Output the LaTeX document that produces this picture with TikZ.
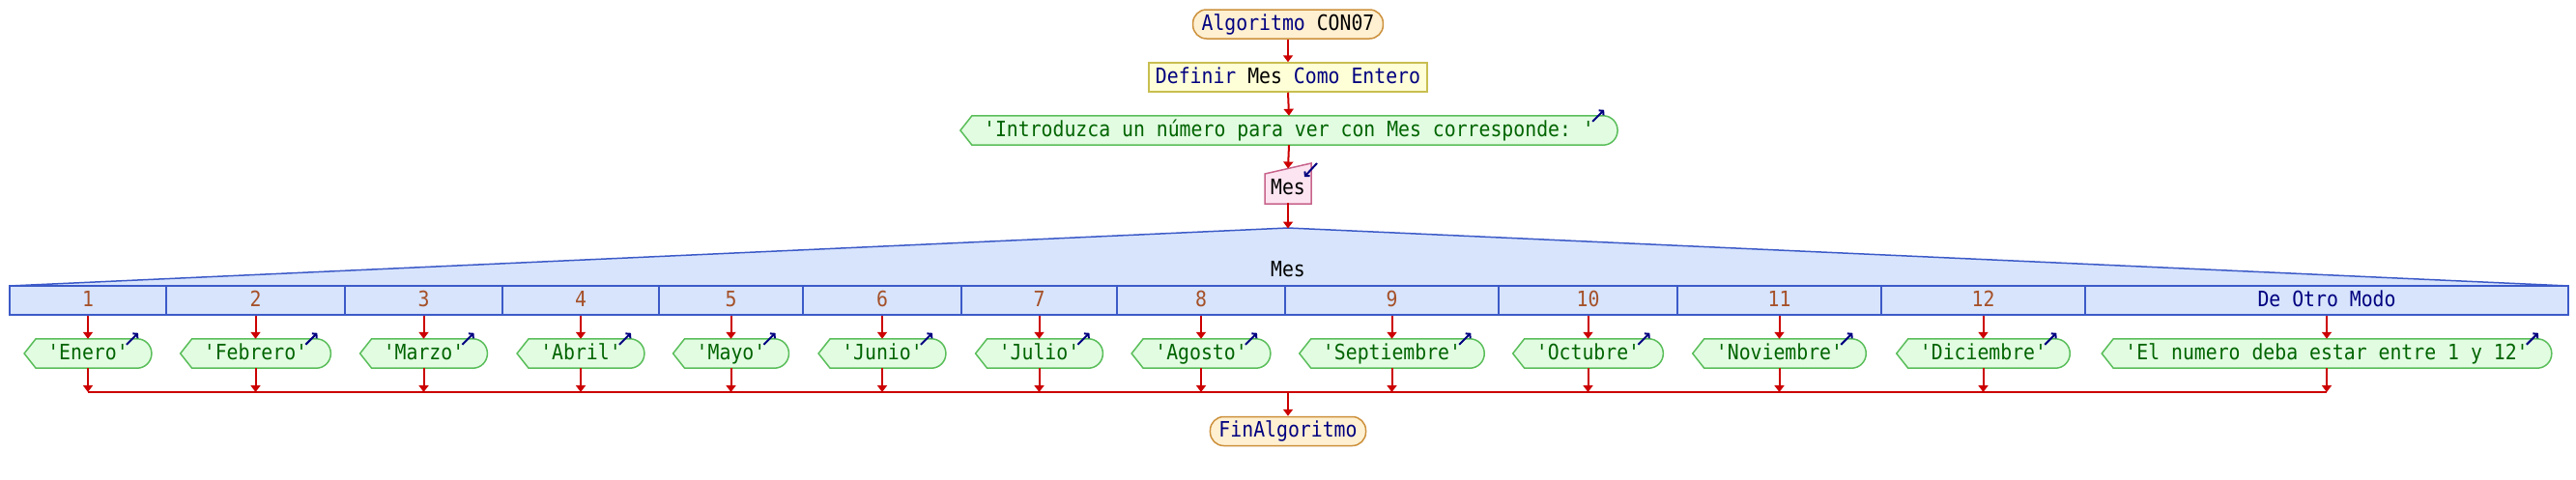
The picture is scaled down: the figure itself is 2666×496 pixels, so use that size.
\documentclass[tikz,border=0pt]{standalone}
\usepackage{fontspec}
\setmonofont[FakeStretch=0.9]{DejaVu Sans Mono}
\usetikzlibrary{arrows.meta,backgrounds}
\definecolor{navy}{RGB}{0,0,128}
\definecolor{flowred}{RGB}{204,0,0}
\definecolor{termfill}{RGB}{255,240,210}
\definecolor{termline}{RGB}{205,145,60}
\definecolor{deffill}{RGB}{255,255,215}
\definecolor{defline}{RGB}{200,190,80}
\definecolor{outfill}{RGB}{226,252,226}
\definecolor{outborder}{RGB}{90,190,90}
\definecolor{outtextc}{RGB}{0,100,0}
\definecolor{rdfill}{RGB}{252,228,240}
\definecolor{rdline}{RGB}{200,100,140}
\definecolor{swfill}{RGB}{215,228,252}
\definecolor{swline}{RGB}{60,90,200}
\definecolor{casenum}{RGB}{165,80,40}
\tikzset{
  base/.style={inner ysep=0pt, minimum height=30pt, text height=16pt, text depth=4pt},
  term/.style={base, inner xsep=9pt, draw=termline, fill=termfill, line width=1.5pt, rounded corners=14pt, text=navy},
  defbox/.style={base, inner xsep=7pt, draw=defline, fill=deffill, line width=1.5pt, text=navy},
  outtext/.style={base, inner xsep=24pt, text=outtextc},
  outshapestyle/.style={draw=outborder, fill=outfill, line width=1.5pt},
  icon/.style={draw=navy, line width=2pt, -{Straight Barb[length=3pt,width=7pt]}},
  flow/.style={draw=flowred, line width=2pt, -{Triangle[width=10pt,length=7pt]}},
  casebox/.style={base, inner xsep=0pt, draw=swline, fill=swfill, line width=1.5pt, text=casenum},
}
\newcommand\outshape[1]{%
  \begin{scope}[on background layer]
    \path[outshapestyle] (#1.west) -- ([xshift=12pt]#1.north west) -- ([xshift=-15pt]#1.north east)
      to[out=0,in=90] (#1.east) to[out=-90,in=0] ([xshift=-15pt]#1.south east)
      -- ([xshift=12pt]#1.south west) -- cycle;
  \end{scope}
  \draw[icon] ([xshift=-26pt,yshift=-6pt]#1.north east) -- ([xshift=-14pt,yshift=6pt]#1.north east);%
}
\begin{document}
\begin{tikzpicture}[x=1pt,y=1pt,font=\ttfamily\fontsize{22pt}{26pt}\selectfont]
\useasboundingbox (0,0) rectangle (2666,-496);
% top chain
\node[term] (start) at (1333,-25) {Algoritmo {\color{black}CON07}};
\node[defbox] (def) at (1333,-80) {Definir {\color{black}Mes} Como Entero};
\node[outtext] (intro) at (1334,-135) {'Introduzca un número para ver con Mes corresponde: '};
\outshape{intro}
% read
\path[draw=rdline, fill=rdfill, line width=1.5pt] (1309,-180) -- (1357,-169) -- (1357,-211) -- (1309,-211) -- cycle;
\node[base, text=black] (rd) at (1333,-195) {Mes};
\coordinate (rdtop) at (1333,-174.5);
\draw[icon] (1363,-169) -- (1350,-183);
% switch
\path[draw=swline, fill=swfill, line width=1.5pt] (10,-296) -- (1333,-236) -- (2658,-296) -- cycle;
\coordinate (swtop) at (1333,-236.5);
\node[base, text=black] (sw) at (1333,-280) {Mes};
\draw[flow] (start.south) -- (def.north);
\draw[flow] (def.south) -- (intro.north);
\draw[flow] (intro.south) -- (rdtop);
\draw[flow] (rd.south) -- (swtop);
\foreach \i/\cx/\w/\lab/\txt in {
  1/91/162/1/'Enero',
  2/264.5/185/2/'Febrero',
  3/438.5/163/3/'Marzo',
  4/601/162/4/'Abril',
  5/756.5/149/5/'Mayo',
  6/913/164/6/'Junio',
  7/1075.5/161/7/'Julio',
  8/1243/174/8/'Agosto',
  9/1440.5/221/9/'Septiembre',
  10/1643.5/185/10/'Octubre',
  11/1841.5/211/11/'Noviembre',
  12/2052.5/211/12/'Diciembre',
  13/2408/500/{\color{navy}De Otro Modo}/'El numero deba estar entre 1 y 12'}{
  \node[casebox, minimum width=\w pt] (c\i) at (\cx,-311) {\lab};
  \node[outtext] (o\i) at (\cx,-366) {\txt};
  \outshape{o\i}
  \coordinate (b\i) at (\cx,-406);
  \draw[flow] (c\i.south) -- (o\i.north);
  \draw[flow] (o\i.south) -- (b\i);
}
\draw[flowred, line width=2pt] (b1) -- (b13);
\coordinate (bm) at (1333,-406);
\node[term] (fin) at (1333,-446.5) {FinAlgoritmo};
\draw[flow] (bm) -- (fin.north);
\end{tikzpicture}
\end{document}
